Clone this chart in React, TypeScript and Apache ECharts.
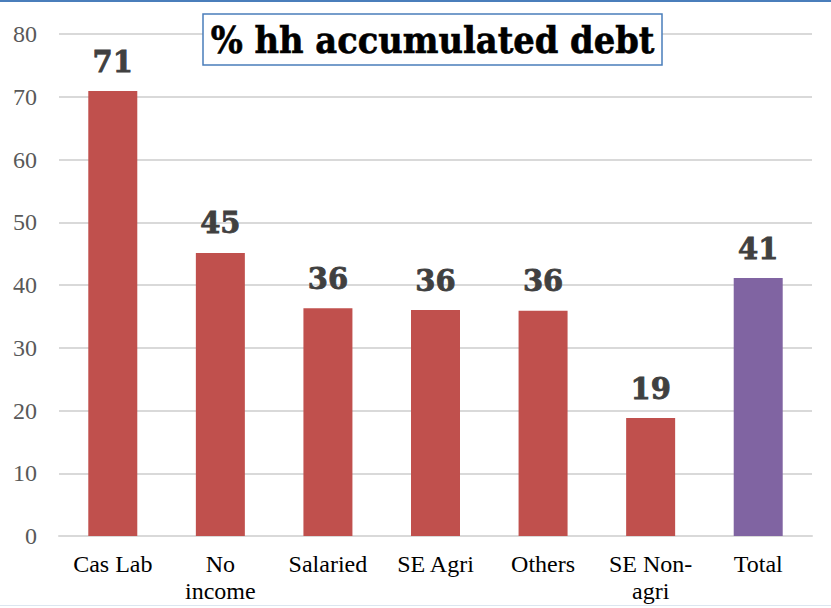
import React, { useEffect, useRef } from "react";
import * as echarts from "echarts";

const categories = ["Cas Lab", "No\nincome", "Salaried", "SE Agri", "Others", "SE Non-\nagri", "Total"];
const values = [70.9, 45.1, 36.3, 36.0, 35.9, 18.8, 41.1];
const barColors = ["#C0504D", "#C0504D", "#C0504D", "#C0504D", "#C0504D", "#C0504D", "#8064A2"];
const titleText = "% hh accumulated debt";

export default function App() {
  const ref = useRef<HTMLDivElement>(null);
  useEffect(() => {
    if (!ref.current) return;
    const chart = echarts.init(ref.current, null, { renderer: "svg" });
    chart.setOption({
      animation: false,
      backgroundColor: "#ffffff",
      grid: { left: 59, right: 19, top: 34, bottom: 72 },
      xAxis: {
        type: "category",
        data: categories,
        axisLine: { show: true, lineStyle: { color: "#d9d9d9", width: 2 } },
        axisTick: { show: false },
        axisLabel: {
          color: "#000000",
          fontFamily: "Liberation Serif",
          fontSize: 24,
          margin: 14,
          lineHeight: 27,
          interval: 0,
        },
      },
      yAxis: {
        type: "value",
        min: 0,
        max: 80,
        interval: 10,
        axisLine: { show: false },
        axisTick: { show: false },
        splitLine: { lineStyle: { color: "#d9d9d9", width: 2 } },
        axisLabel: {
          color: "#595959",
          fontFamily: "Liberation Serif",
          fontSize: 24,
          margin: 22,
        },
      },
      series: [
        {
          type: "bar",
          data: values.map((v, i) => ({ value: v, itemStyle: { color: barColors[i] } })),
          barWidth: 49,
          label: {
            show: true,
            position: "top",
            distance: 15,
            formatter: (p: any) => Math.round(p.value).toString(),
            color: "#404040",
            fontFamily: "DejaVu Serif",
            fontWeight: "bold",
            fontSize: 29,
            textBorderColor: "#404040",
            textBorderWidth: 0.8,
          },
        },
      ],
      graphic: [
        {
          type: "rect",
          shape: { x: 0, y: 0, width: 831, height: 2 },
          style: { fill: "#4a7ebb" },
          z: 100,
        },
        {
          type: "rect",
          shape: { x: 0, y: 605, width: 831, height: 1 },
          style: { fill: "#dce6f0" },
          z: 100,
        },
        {
          type: "rect",
          shape: { x: 203, y: 14, width: 459, height: 51 },
          style: { fill: "#ffffff", stroke: "#4a7ebb", lineWidth: 1.5 },
          z: 100,
        },
        {
          type: "text",
          x: 432.5,
          y: 40,
          style: {
            text: titleText,
            fill: "#000000",
            fontFamily: "DejaVu Serif Condensed",
            fontWeight: "bold",
            fontSize: 37.5,
            stroke: "#000000",
            lineWidth: 0.6,
            textAlign: "center",
            textVerticalAlign: "middle",
          },
          z: 101,
        },
      ],
    });
    return () => chart.dispose();
  }, []);
  return <div ref={ref} style={{ width: 831, height: 608, position: "absolute", left: 0, top: 0 }} />;
}
